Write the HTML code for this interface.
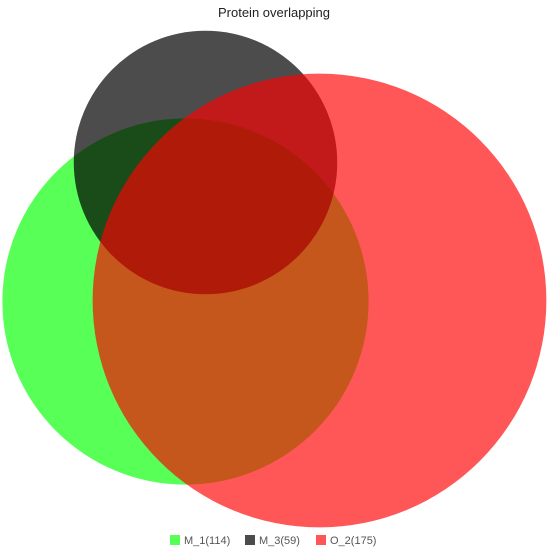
<!DOCTYPE html>
<html><head><meta charset="utf-8">
<style>
html,body{margin:0;padding:0;background:#fff;}
svg{display:block;font-family:"Liberation Sans",sans-serif;}
</style></head>
<body>
<svg id="chart" width="547" height="547" viewBox="0 0 547 547">
<text x="274" y="17" text-anchor="middle" font-size="13" fill="#222">Protein overlapping</text>
<g id="circles"></g>
<g id="legend"></g>
</svg>
<script>
const setNames = ["M_1", "M_3", "O_2"];
const setSizes = [114, 59, 175];
const setColors = ["#00ff00", "#000000", "#ff0000"];
// layout (pixel centres of each set circle)
const layoutCenters = [[185.5, 301.5], [205.5, 162.5], [319.5, 300.5]];
const radiusScale = 17.15;
const svgNS = "http://www.w3.org/2000/svg";
const cg = document.getElementById("circles");
setSizes.forEach((n, i) => {
  const c = document.createElementNS(svgNS, "circle");
  c.setAttribute("cx", layoutCenters[i][0]);
  c.setAttribute("cy", layoutCenters[i][1]);
  c.setAttribute("r", radiusScale * Math.sqrt(n));
  c.setAttribute("fill", setColors[i]);
  c.setAttribute("fill-opacity", i === 1 ? 0.7 : 0.66);
  
  
  cg.appendChild(c);
});
const lg = document.getElementById("legend");
const legendX = [170, 245, 316];
setNames.forEach((nm, i) => {
  const g = document.createElementNS(svgNS, "g");
  
  
  const r = document.createElementNS(svgNS, "rect");
  r.setAttribute("x", legendX[i]); r.setAttribute("y", 535);
  r.setAttribute("width", 10); r.setAttribute("height", 10);
  r.setAttribute("fill", setColors[i]); r.setAttribute("fill-opacity", i === 1 ? 0.7 : 0.66);
  
  
  const t = document.createElementNS(svgNS, "text");
  t.setAttribute("x", legendX[i] + 14); t.setAttribute("y", 544);
  t.setAttribute("font-size", "11"); t.setAttribute("fill", "#555");
  t.textContent = nm + "(" + setSizes[i] + ")";
  
  
  g.appendChild(r); g.appendChild(t); lg.appendChild(g);
});
</script>
</body></html>
